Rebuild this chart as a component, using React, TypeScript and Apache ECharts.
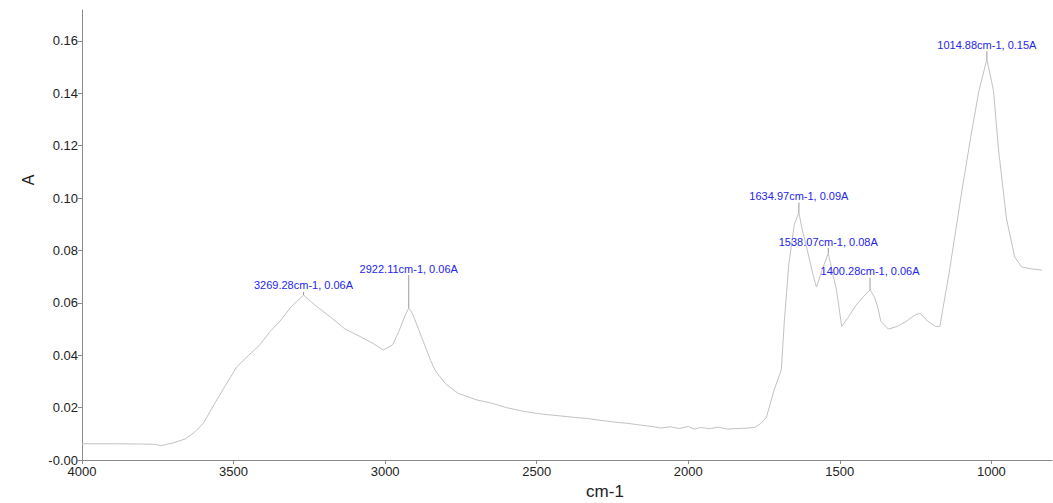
import React, { useEffect, useRef } from "react";
import * as echarts from "echarts";

// Spectrum trace (wavenumber cm-1, absorbance A)
const wavenumbers = [
  4000, 3900, 3800, 3760, 3740, 3700, 3660, 3630, 3600, 3550, 3490, 3450, 3413, 3380, 3347, 3310,
  3269.28, 3230, 3180, 3132, 3080, 3040, 3006, 2975, 2955, 2935, 2922.11, 2910, 2890, 2870, 2850,
  2834, 2800, 2760, 2700, 2652, 2600, 2540, 2480, 2420, 2387, 2330, 2280, 2245, 2200, 2150, 2120,
  2090, 2060, 2030, 2000, 1980, 1960, 1930, 1900, 1870, 1840, 1800, 1780, 1760, 1742, 1716, 1693,
  1683, 1668, 1650, 1634.97, 1626, 1605, 1587, 1577, 1560, 1538.07, 1525, 1511, 1500, 1494, 1475,
  1447, 1425, 1400.28, 1385, 1374, 1365, 1340, 1310, 1280, 1250, 1235, 1210, 1185, 1170, 1140,
  1097, 1070, 1041, 1014.88, 993, 976, 950, 923, 900, 870, 833,
];
const absorbance = [
  0.0062, 0.0062, 0.0061, 0.006, 0.0055, 0.0065, 0.008, 0.0105, 0.014, 0.024, 0.0355, 0.04, 0.044,
  0.049, 0.053, 0.0585, 0.063, 0.059, 0.0545, 0.05, 0.047, 0.0445, 0.042, 0.044, 0.049, 0.055,
  0.058, 0.056, 0.05, 0.044, 0.038, 0.034, 0.029, 0.0255, 0.023, 0.0218, 0.02, 0.0185, 0.0175,
  0.0168, 0.0164, 0.0158, 0.015, 0.0145, 0.014, 0.0132, 0.0128, 0.0122, 0.0127, 0.012, 0.0128,
  0.0118, 0.0124, 0.012, 0.0125, 0.0118, 0.012, 0.0122, 0.0125, 0.014, 0.0164, 0.027, 0.0344,
  0.053, 0.075, 0.09, 0.0945, 0.089, 0.079, 0.07, 0.066, 0.072, 0.079, 0.072, 0.065, 0.056, 0.051,
  0.054, 0.059, 0.062, 0.065, 0.062, 0.058, 0.053, 0.05, 0.051, 0.053, 0.0555, 0.056, 0.053, 0.051,
  0.051, 0.071, 0.103, 0.122, 0.141, 0.153, 0.141, 0.118, 0.092, 0.0775, 0.0737, 0.073, 0.0725,
];

// Peak annotations
const peakWn = [3269.28, 2922.11, 1634.97, 1538.07, 1400.28, 1014.88];
const peakA = [0.063, 0.058, 0.0945, 0.079, 0.065, 0.153];
const peakLabels = [
  "3269.28cm-1, 0.06A",
  "2922.11cm-1, 0.06A",
  "1634.97cm-1, 0.09A",
  "1538.07cm-1, 0.08A",
  "1400.28cm-1, 0.06A",
  "1014.88cm-1, 0.15A",
];
const peakLeader = [3, 33, 10, 5, 12, 8];

const xTicks = [4000, 3500, 3000, 2500, 2000, 1500, 1000];
const yTicks = [0, 0.02, 0.04, 0.06, 0.08, 0.1, 0.12, 0.14, 0.16];

export default function App() {
  const ref = useRef<HTMLDivElement>(null);
  useEffect(() => {
    if (!ref.current) return;
    const chart = echarts.init(ref.current, null, { renderer: "svg" });
    const font = "Arial, 'Liberation Sans', sans-serif";
    const data = wavenumbers.map((w, i) => [w, absorbance[i]]);
    chart.setOption({
      animation: false,
      backgroundColor: "#ffffff",
      grid: { left: 82, top: 10, right: 1, bottom: 43, containLabel: false },
      xAxis: {
        type: "value",
        inverse: true,
        min: 800,
        max: 4000,
        axisLine: { show: true, lineStyle: { color: "#8a8a8a", width: 1 } },
        axisTick: { show: true, length: 4, lineStyle: { color: "#8a8a8a" }, customValues: xTicks },
        axisLabel: {
          customValues: xTicks,
          color: "#222",
          fontSize: 13,
          fontFamily: font,
          margin: 5,
          formatter: (v: number) => String(v),
        },
        splitLine: { show: false },
      },
      yAxis: {
        type: "value",
        min: 0,
        max: 0.1718,
        axisLine: { show: true, lineStyle: { color: "#8a8a8a", width: 1 } },
        axisTick: { show: true, length: 4, lineStyle: { color: "#8a8a8a" }, customValues: yTicks },
        axisLabel: {
          customValues: yTicks,
          color: "#222",
          fontSize: 13,
          fontFamily: font,
          margin: 4,
          formatter: (v: number) => (Math.abs(v) < 1e-9 ? "-0.00" : v.toFixed(2)),
        },
        splitLine: { show: false },
      },
      graphic: [
        {
          type: "text",
          x: 28,
          y: 180,
          rotation: Math.PI / 2,
          style: {
            text: "A",
            fill: "#222",
            font: `16px ${font}`,
            align: "center",
            verticalAlign: "middle",
          },
        },
        {
          type: "text",
          x: 605,
          y: 491,
          style: {
            text: "cm-1",
            fill: "#222",
            font: `17px ${font}`,
            align: "center",
            verticalAlign: "middle",
          },
        },
      ],
      series: [
        {
          type: "line",
          data,
          symbol: "none",
          lineStyle: { color: "#c2c2c2", width: 1 },
          markPoint: {
            silent: true,
            data: peakWn.map((w, i) => ({
              coord: [w, peakA[i]],
              symbol: "rect",
              symbolSize: [1, peakLeader[i]],
              symbolOffset: [0, -peakLeader[i] / 2],
              itemStyle: { color: "#9a9a9a" },
              label: {
                show: true,
                position: "top",
                distance: 1,
                formatter: peakLabels[i],
                color: "#2424f0",
                fontSize: 11,
                fontFamily: font,
              },
            })),
          },
        },
      ],
    });
    return () => chart.dispose();
  }, []);
  return (
    <div
      ref={ref}
      style={{ position: "fixed", left: 0, top: 0, width: 1053, height: 503, background: "#fff" }}
    />
  );
}
